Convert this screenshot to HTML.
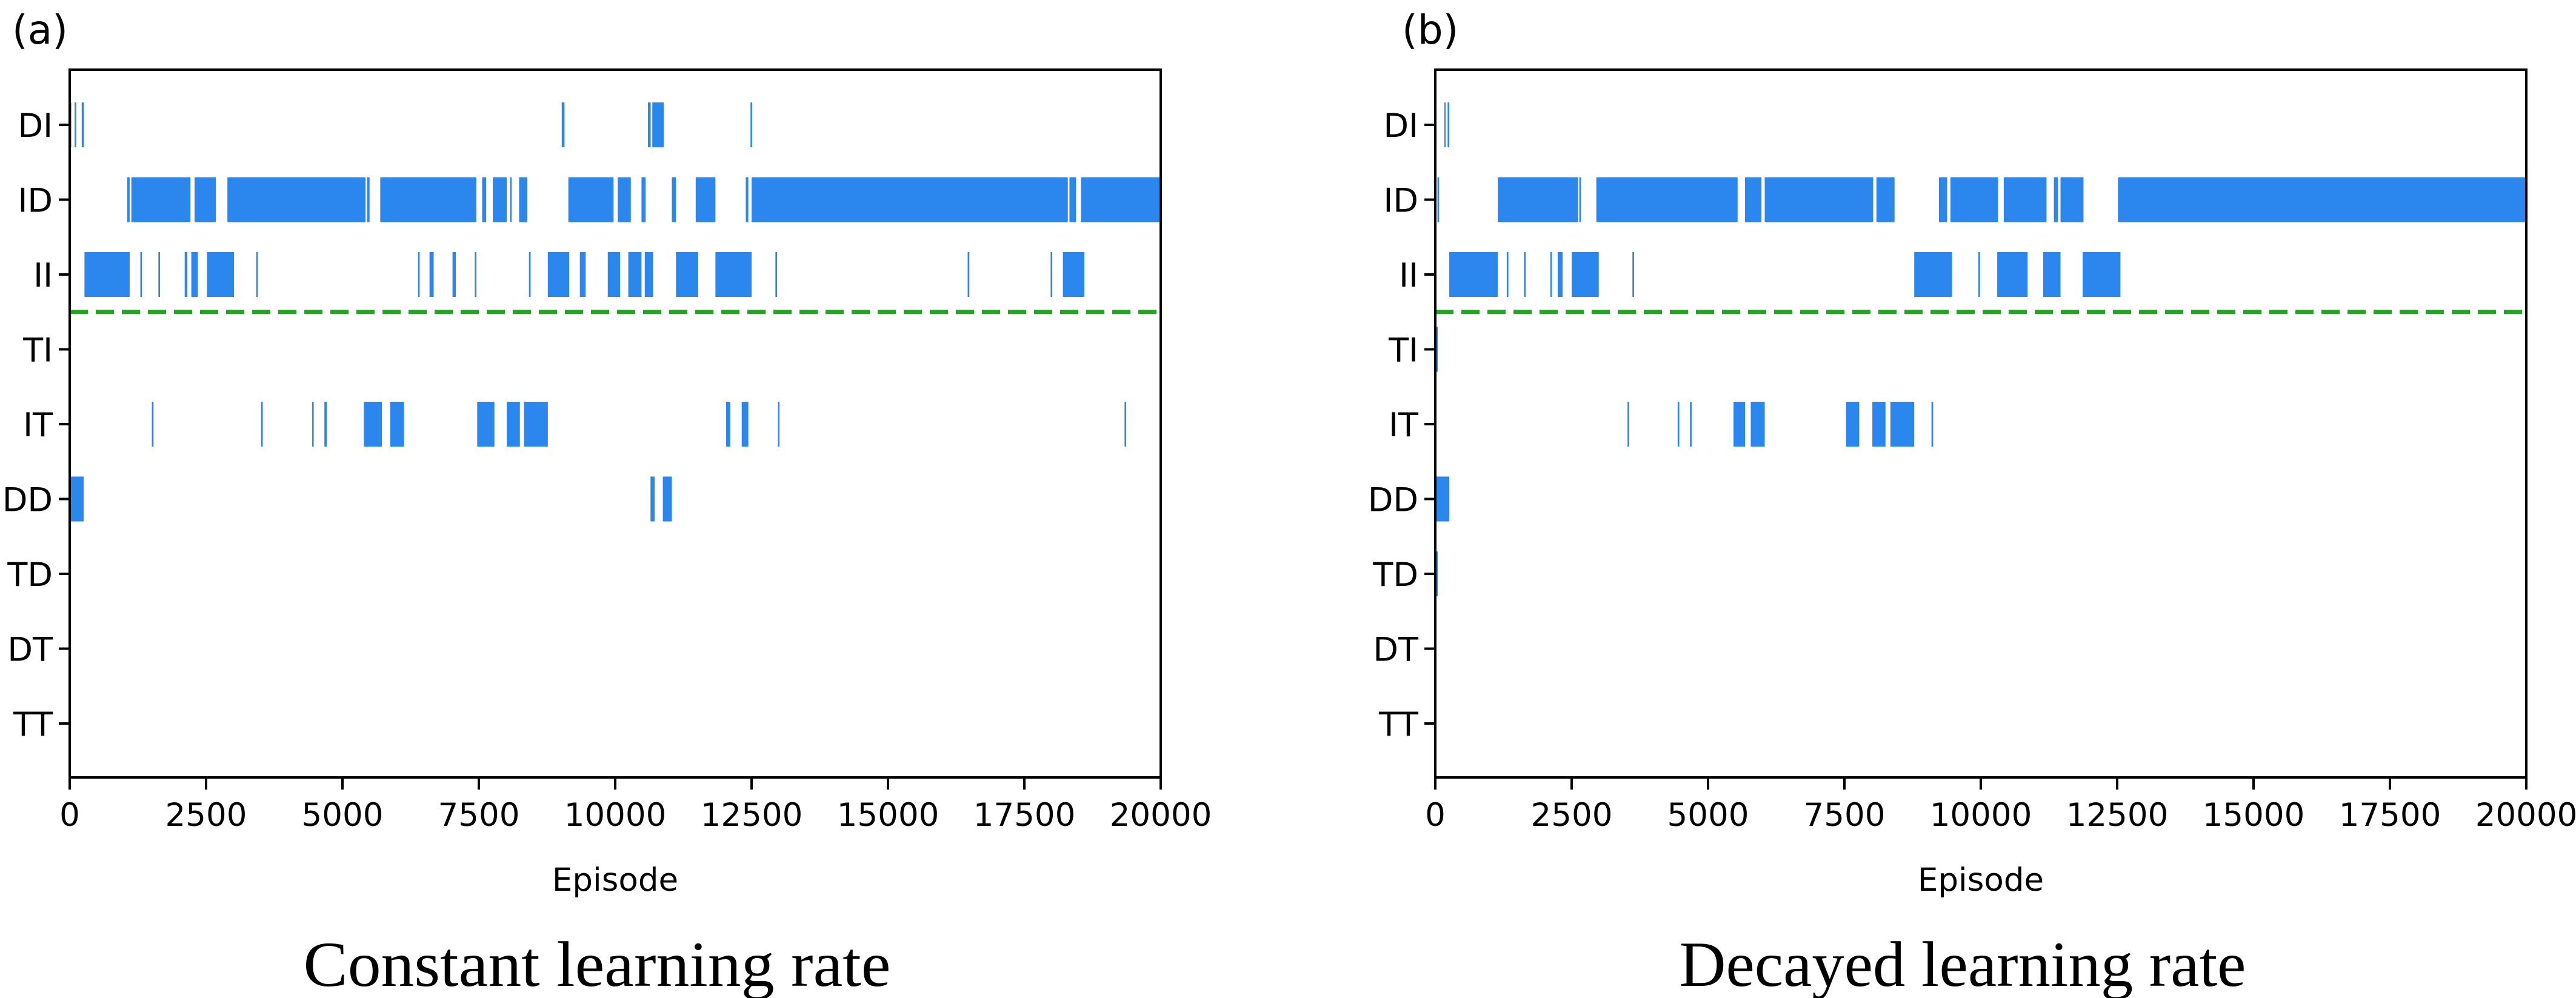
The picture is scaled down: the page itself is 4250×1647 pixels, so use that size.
<!DOCTYPE html>
<html><head><meta charset="utf-8"><style>
html,body{margin:0;padding:0;background:#fff;}
svg{display:block;}
</style></head><body>
<svg id="fig" width="4250" height="1647" viewBox="0 0 4250 1647" xmlns="http://www.w3.org/2000/svg"></svg>
<script>
// Categories (top to bottom)
const categories = ["DI","ID","II","TI","IT","DD","TD","DT","TT"];
const xTicks = [0,2500,5000,7500,10000,12500,15000,17500,20000];
const xMax = 20000;
const thresholdBetween = 2.5; // dashed line between II and TI (row units)

// Panel (a): constant learning rate — [start, end] episode intervals per category
const aDI = [[0,30],[90,120],[220,260],[9020,9070],[10600,10650],[10680,10890],[12480,12510]];
const aID = [[1054,1099],[1130,2214],[2289,2680],[2891,5422],[5452,5497],[5693,7455],[7560,7635],[7756,8012],[8072,8102],[8238,8389],[9141,9970],[10045,10286],[10482,10557],[11039,11114],[11476,11837],[12394,12440],[12500,18297],[18327,18448],[18538,20000]];
const aII = [[271,1099],[1295,1325],[1626,1656],[2108,2154],[2229,2349],[2515,3012],[3419,3449],[6385,6415],[6596,6672],[7018,7078],[7425,7455],[8419,8449],[8765,9156],[9352,9458],[9864,10090],[10240,10482],[10542,10693],[11114,11521],[11837,12500],[12937,12967],[16461,16491],[17982,18012],[18207,18599]];
const aTI = [];
const aIT = [[1506,1536],[3509,3539],[4443,4473],[4669,4714],[5392,5723],[5874,6129],[7470,7786],[8012,8253],[8328,8765],[12033,12108],[12319,12440],[12982,13012],[19337,19367]];
const aDD = [[0,256],[10647,10723],[10873,11039]];
const aTD = [];
const aDT = [];
const aTT = [];

// Panel (b): decayed learning rate
const bDI = [[0,20],[166,190],[226,256]];
const bID = [[40,70],[1145,2620],[2640,2670],[2952,5542],[5678,5979],[6039,8027],[8087,8419],[9232,9382],[9443,10316],[10421,11205],[11340,11415],[11461,11882],[12515,20000]];
const bII = [[256,1145],[1310,1340],[1627,1657],[2108,2138],[2244,2334],[2500,2997],[3614,3644],[8780,9473],[9955,9985],[10301,10858],[11144,11461],[11867,12560]];
const bTI = [[15,45]];
const bIT = [[3524,3554],[4443,4473],[4669,4699],[5467,5678],[5783,6039],[7530,7771],[8012,8253],[8343,8780],[9096,9126]];
const bDD = [[0,256]];
const bTD = [[15,45]];
const bDT = [];
const bTT = [];

const NS = "http://www.w3.org/2000/svg";
const svg = document.getElementById("fig");
function mk(tag, attrs, parent){
  const e = document.createElementNS(NS, tag);
  for (const k in attrs) e.setAttribute(k, attrs[k]);
  (parent||svg).appendChild(e);
  return e;
}

const axLeft = 115, axW = 1800, axTop = 115, axBottom = 1283;
const row0 = 206, rowStep = 123.5, barHalf = 37;

function drawPanel(dx, label, title, series, key){
  const g = mk("g", {transform: "translate(" + dx + ",0)"});
  
  
  const xS = v => axLeft + v / xMax * axW;
  const yS = r => row0 + r * rowStep;

  series.forEach((iv, r) => {
    iv.forEach(([s, e]) => {
      const x0 = xS(s), x1 = xS(e);
      const rect = mk("rect", {x: x0, y: yS(r) - barHalf, width: Math.max(x1 - x0, 2), height: barHalf * 2, fill: "#2b86ee"}, g);
      
      
    });
  });

  const dl = mk("line", {x1: axLeft, x2: axLeft + axW, y1: yS(thresholdBetween), y2: yS(thresholdBetween), stroke: "#1fa51f", "stroke-width": 7, "stroke-dasharray": "30 13"}, g);
  
  

  const fr = mk("rect", {x: axLeft, y: axTop, width: axW, height: axBottom - axTop, fill: "none", stroke: "#000", "stroke-width": 4}, g);
  
  

  categories.forEach((c, r) => {
    mk("line", {x1: axLeft - 18, x2: axLeft, y1: yS(r), y2: yS(r), stroke: "#000", "stroke-width": 4}, g);
    const t = mk("text", {x: axLeft - 28, y: yS(r) + 20, "text-anchor": "end", "font-family": "DejaVu Sans, Liberation Sans, sans-serif", "font-size": 54, fill: "#000"}, g);
    t.textContent = c;
    
    
  });

  xTicks.forEach(v => {
    mk("line", {x1: xS(v), x2: xS(v), y1: axBottom, y2: axBottom + 20, stroke: "#000", "stroke-width": 4}, g);
    const t = mk("text", {x: xS(v), y: 1363, "text-anchor": "middle", "font-family": "DejaVu Sans, Liberation Sans, sans-serif", "font-size": 53, fill: "#000"}, g);
    t.textContent = v;
    
    
  });

  const xl = mk("text", {x: axLeft + axW / 2, y: 1470, "text-anchor": "middle", "font-family": "DejaVu Sans, Liberation Sans, sans-serif", "font-size": 53, fill: "#000"}, g);
  xl.textContent = "Episode";
  
  

  const pl = mk("text", {x: key === "a" ? 20 : 60, y: 72, "font-family": "DejaVu Sans, Liberation Sans, sans-serif", "font-size": 66, fill: "#000"}, g);
  pl.textContent = label;
  
  

  const tw = key === "a" ? 969 : 935;
  const tt = mk("text", {x: 985 - tw / 2, y: 1627, "font-family": "Liberation Serif, serif", "font-size": 106, fill: "#000", textLength: tw, lengthAdjust: "spacingAndGlyphs"}, g);
  tt.textContent = title;
  
  
}

drawPanel(0, "(a)", "Constant learning rate", [aDI, aID, aII, aTI, aIT, aDD, aTD, aDT, aTT], "a");
drawPanel(2253, "(b)", "Decayed learning rate", [bDI, bID, bII, bTI, bIT, bDD, bTD, bDT, bTT], "b");
</script>
</body></html>
